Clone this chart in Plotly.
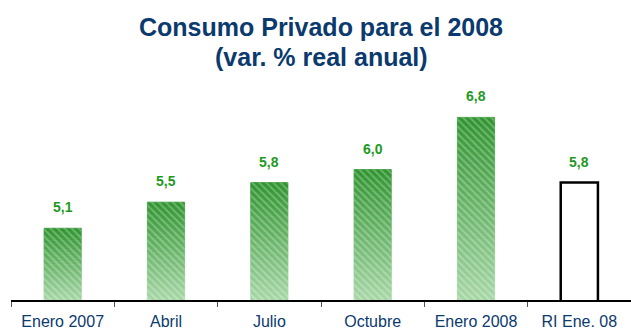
import plotly.graph_objects as go

# Private consumption forecasts for 2008 (real annual % change)
categories = ["Enero 2007", "Abril", "Julio", "Octubre", "Enero 2008", "RI Ene. 08"]
values = [5.1, 5.5, 5.8, 6.0, 6.8, 5.8]

title_line1 = "Consumo Privado para el 2008"
title_line2 = "(var. % real anual)"

GREEN_TEXT = "#1f9a1f"
NAVY = "#0b3a6e"
Y_MIN, Y_MAX = 4.0, 7.22

survey_cats = categories[:-1]
survey_vals = values[:-1]


def mix(c1, c2, t):
    a = [int(c1[i:i + 2], 16) for i in (1, 3, 5)]
    b = [int(c2[i:i + 2], 16) for i in (1, 3, 5)]
    return "#" + "".join(f"{round(x + (y - x) * t):02x}" for x, y in zip(a, b))


fig = go.Figure()

# Vertical fade behind the survey bars, as stacked slices of each bar
N = 24
top_col, bot_col = "#2f942f", "#a6d7a6"
for k in range(N):
    lo = [Y_MIN + (v - Y_MIN) * k / N for v in survey_vals]
    hi = [Y_MIN + (v - Y_MIN) * (k + 1) / N for v in survey_vals]
    if k == 0:
        lo = [0.0] * len(survey_vals)
    col = mix(bot_col, top_col, (k + 0.5) / N)
    fig.add_trace(go.Bar(
        x=survey_cats,
        y=[h - l for h, l in zip(hi, lo)],
        base=lo,
        width=0.36,
        marker=dict(color=col, line=dict(width=0.8, color=col)),
        hoverinfo="skip",
    ))

# Survey rounds: hatched bars on top of the fade
fig.add_trace(go.Bar(
    x=survey_cats,
    y=survey_vals,
    width=0.36,
    marker=dict(
        color="rgba(0,0,0,0)",
        line=dict(width=0),
        pattern=dict(shape="\\", fgcolor="rgba(255,255,255,0.28)",
                     bgcolor="rgba(0,0,0,0)", size=5, solidity=0.4,
                     fillmode="replace"),
    ),
    hoverinfo="x+y",
))

# Inflation report figure: outlined white bar
fig.add_trace(go.Bar(
    x=[categories[-1]],
    y=[values[-1]],
    width=0.36,
    marker=dict(color="white", line=dict(color="black", width=2.5)),
    hoverinfo="x+y",
))

# Value labels above each bar
for c, v in zip(categories, values):
    fig.add_annotation(
        x=c, y=v, xref="x", yref="y",
        text=f"{v:.1f}".replace(".", ","),
        showarrow=False, yanchor="bottom", yshift=11,
        font=dict(family="Liberation Sans Narrow, Arial Narrow, sans-serif",
                  size=14, color=GREEN_TEXT, weight="bold"),
    )

# Two-line title
for text, shift in [(title_line1, 63), (title_line2, 33)]:
    fig.add_annotation(
        x=0.5, y=1, xref="paper", yref="paper",
        text=f"<b>{text}</b>", showarrow=False,
        yanchor="middle", yshift=shift,
        font=dict(family="Liberation Sans, Arial, sans-serif", size=25, color=NAVY),
    )

fig.update_layout(
    width=631, height=331,
    margin=dict(l=11, r=0, t=90, b=31),
    paper_bgcolor="white", plot_bgcolor="white",
    showlegend=False, barmode="overlay",
    xaxis=dict(
        type="category", range=[-0.5, 5.5],
        showline=True, linecolor="black", linewidth=1.5,
        ticks="outside", tickson="boundaries", ticklen=5, tickcolor="#555555",
        ticklabelstandoff=6,
        tickfont=dict(family="Liberation Sans, Arial, sans-serif", size=16, color=NAVY),
        showgrid=False, zeroline=False,
    ),
    yaxis=dict(
        range=[Y_MIN, Y_MAX], visible=False, showgrid=False, zeroline=False,
    ),
)

fig.write_html("out.html")
